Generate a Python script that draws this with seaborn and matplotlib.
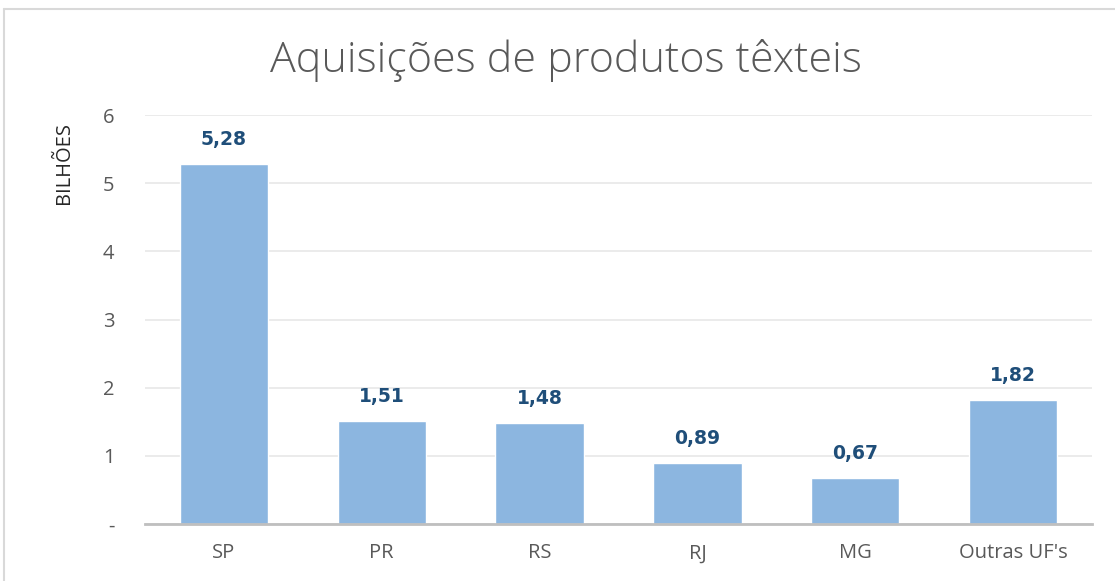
import matplotlib
matplotlib.use("Agg")
import matplotlib.pyplot as plt
import seaborn as sns
import pandas as pd
from matplotlib.lines import Line2D

categories = ["SP", "PR", "RS", "RJ", "MG", "Outras UF's"]
values = [5.28, 1.51, 1.48, 0.89, 0.67, 1.82]
value_labels = ["5,28", "1,51", "1,48", "0,89", "0,67", "1,82"]
yticks = [0, 1, 2, 3, 4, 5, 6]
ytick_labels = ["-", "1", "2", "3", "4", "5", "6"]

sns.set_style("white")
plt.rcParams['font.family'] = ['Open Sans', 'DejaVu Sans']

df = pd.DataFrame({"uf": categories, "v": values})

fig = plt.figure(figsize=(11.15, 5.81), dpi=100)
ax = fig.add_axes([145/1115, 1-524/581, (1092-145)/1115, (524-115)/581])

sns.barplot(data=df, x="uf", y="v", color="#8CB6E0", saturation=1, width=0.56, ax=ax)

ax.set_ylim(0, 6)
ax.set_yticks(yticks)
ax.set_yticklabels(ytick_labels)
ax.yaxis.grid(True, color="#E8E8E8", linewidth=1.2)
ax.set_axisbelow(True)
for s in ["top", "right", "left"]:
    ax.spines[s].set_visible(False)
ax.spines["bottom"].set_color("#BFBFBF")
ax.spines["bottom"].set_linewidth(2)
ax.tick_params(axis="both", length=0, labelsize=14.5, labelcolor="#595959")
ax.tick_params(axis="y", pad=22)
ax.tick_params(axis="x", pad=14)
ax.set_xlabel("")
ax.set_ylabel("")

for p, lab in zip(ax.patches, value_labels):
    ax.annotate(lab, (p.get_x() + p.get_width()/2, p.get_height()),
                xytext=(0, 11), textcoords="offset points", ha="center", va="bottom",
                fontsize=13.5, fontweight="bold", color="#1F4E79", family="DejaVu Sans")

fig.text(64/1115, 1-163/581, "BILHÕES", rotation=90, ha="center", va="center",
         fontsize=14.5, color="#262626")
fig.text(566/1115, 1-60/581, "Aquisições de produtos têxteis", ha="center", va="center",
         fontsize=31, color="#595959", fontweight="light")

fig.add_artist(Line2D([4/1115, 1], [1-9/581, 1-9/581], color="#D9D9D9", linewidth=1.5, transform=fig.transFigure))
fig.add_artist(Line2D([4/1115, 4/1115], [0, 1-9/581], color="#D9D9D9", linewidth=1.5, transform=fig.transFigure))

fig.savefig("out.png", dpi=100)
